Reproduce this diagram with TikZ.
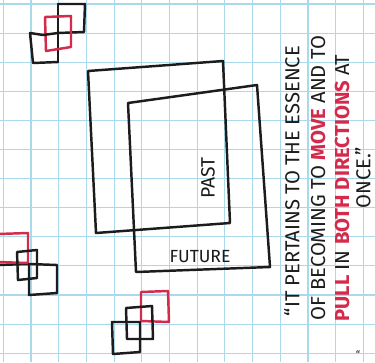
\documentclass[tikz,border=0pt]{standalone}
\usepackage{fontspec}
\setmainfont{Fira Sans}
\definecolor{paper}{HTML}{A9D9EA}
\definecolor{ink}{HTML}{1C1C1C}
\definecolor{marker}{HTML}{D42A4C}
\tikzset{
  pen/.style={ink,line width=1.4pt,line join=round,line cap=round},
  redpen/.style={marker,line width=1.4pt,line join=round,line cap=round},
  hand/.style={ink,inner sep=0pt,font=\fontsize{10}{12}\selectfont},
  quote/.style={hand,rotate=90,font=\fontsize{11.5}{12}\selectfont},
}
\newcommand{\hl}[1]{\textcolor{marker}{\bfseries #1}}

\begin{document}
\begin{tikzpicture}[x=0.02cm,y=-0.02cm]
  \useasboundingbox (0,0) rectangle (375,362);
  \fill[white] (0,0) rectangle (375,362);
  % graph paper
  \foreach \k in {0,...,13}
    \draw[paper,line width=0.6pt] (3.3+27.7*\k,0) -- ++(0,362);
  \foreach \k in {0,...,12}
    \draw[paper,line width=0.6pt] (0,4+29.1*\k) -- ++(375,0);

  % past and future frames
  \draw[pen] (88,71) -- (223,61) -- (230,223) -- (96,233) -- cycle;
  \draw[pen] (128,103) -- (257,85) -- (270,267) -- (136,272) -- cycle;
  \node[hand,rotate=90,font=\fontsize{11}{12}\selectfont] (past) at (208,178) {PAST};
  \node[hand] (future) at (200,257) {FUTURE};

  % small squares, top left
  \draw[pen] (58,4) -- (85,4) -- (84,32) -- (58,33);
  \draw[pen] (58,4) -- (58,62);
  \draw[redpen] (45,17) -- (71,16) -- (71,47) -- (46,51) -- cycle;
  \draw[pen] (58,33) -- (43,35) -- (30,33) -- (33,63) -- (58,62);

  % small squares, bottom left
  \draw[pen] (-2,265) -- (28,264);
  \draw[redpen] (-2,234) -- (28,233) -- (28,263) -- (-2,262);
  \draw[pen] (17,252) -- (37,250) -- (37,278) -- (18,280) -- cycle;
  \draw[pen] (29,264) -- (57,265) -- (57,293) -- (29,295) -- cycle;

  % small squares, bottom middle
  \draw[redpen] (141,292) -- (168,291) -- (169,322) -- (141,321) -- cycle;
  \draw[pen] (126,308) -- (152,306) -- (153,339) -- (127,339) -- cycle;
  \draw[pen] (112,322) -- (140,322) -- (140,352) -- (113,354) -- cycle;

  % the quote
  \node[quote] (line1) at (292,181) {``IT PERTAINS TO THE ESSENCE};
  \node[quote] (line2) at (318,178) {OF BECOMING TO \hl{MOVE} AND TO};
  \node[quote] (line3) at (342,188) {\hl{PULL} IN \hl{BOTH DIRECTIONS} AT};
  \node[quote] (line4) at (363,178) {ONCE.''};
  \node[hand,font=\fontsize{6}{6}\selectfont] (mark) at (358,355) {``};
\end{tikzpicture}
\end{document}
